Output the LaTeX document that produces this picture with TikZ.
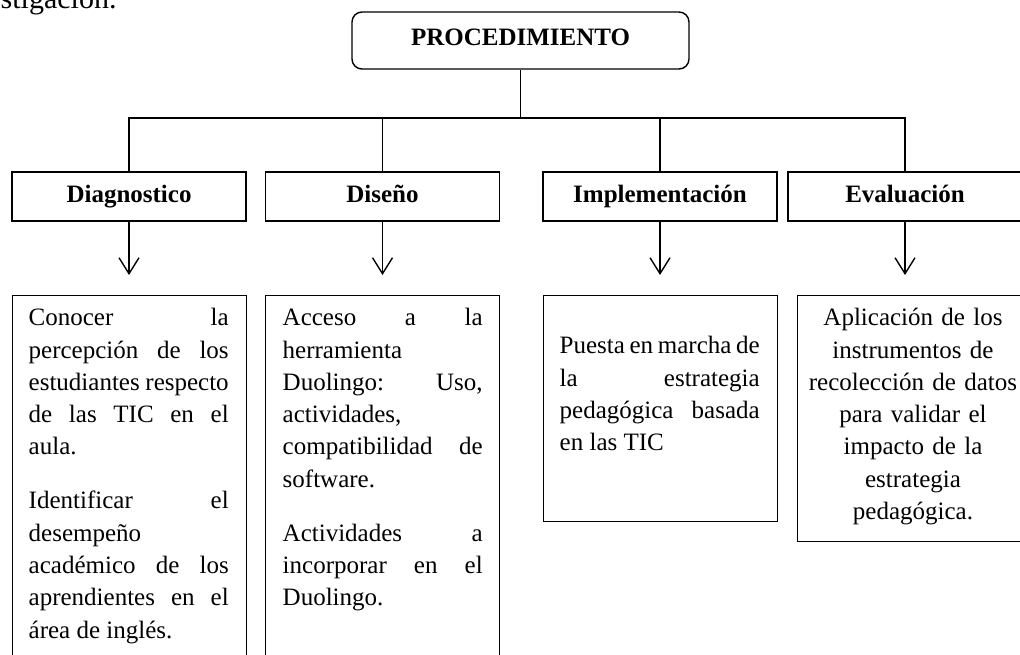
\documentclass[tikz,border=0pt]{standalone}
\usepackage{fontspec}
\setmainfont{Liberation Serif}
\usetikzlibrary{arrows.meta}

\newcommand{\cellfont}{\fontsize{12.5}{16.15}\selectfont\parindent=0pt\parskip=0pt%
  \tolerance=10000\hbadness=10000\hyphenpenalty=10000}

\begin{document}
\begin{tikzpicture}[x=0.5pt, y=-0.5pt, line width=0.7pt,
			titlebox/.style={draw, rounded corners=5pt, minimum width=168.5pt, minimum height=28.5pt,
				font=\fontsize{12.5}{15}\selectfont\bfseries, text depth=3pt},
			phase/.style={draw, minimum width=117pt, minimum height=24.5pt,
				font=\fontsize{12.5}{15}\selectfont\bfseries, text height=9pt, text depth=3pt},
			detail/.style={draw, anchor=north west, minimum width=117pt},
			celltext/.style={anchor=north west, inner sep=0pt, text width=100pt, align=justify, font=\cellfont},
			conn/.style={-{Straight Barb[length=8pt,width=10pt]}, shorten >=10pt}]
			\useasboundingbox (0,0) rectangle (1020,654);
			
			% tail of the line above
			\node[anchor=base west, inner sep=0pt, font=\fontsize{15}{18}\selectfont] (frag) at (0,8) {stigación.};
			
			% title and phases
			\node[titlebox] (proc) at (520.5,40.5) {PROCEDIMIENTO};
			\node[phase] (hdiag) at (129,196.5) {Diagnostico};
			\node[phase] (hdis) at (382.5,196.5) {Diseño};
			\node[phase] (himp) at (660,196.5) {Implementación};
			\node[phase] (heva) at (905,196.5) {Evaluación};
			
			% detail boxes
			\node[detail, minimum height=210pt] (bdiag) at (12,295) {};
			\node[detail, minimum height=210pt] (bdis) at (265,295) {};
			\node[detail, minimum height=113pt] (bimp) at (543,295) {};
			\node[detail, minimum width=140pt, minimum height=123pt] (beva) at (797,295) {};
			
			\node[celltext] (tdiag) at (28,302.4) {\strut Conocer la\linebreak percepción de los\linebreak
				estudiantes respecto\linebreak de las TIC en el\linebreak aula.\par\vspace{10.8pt}%
				Identificar el\linebreak desempeño\linebreak académico de los\linebreak
				aprendientes en el\linebreak área de inglés.};
			\node[celltext] (tdis) at (282,302.4) {\strut Acceso a la\linebreak herramienta\linebreak
				Duolingo: Uso,\linebreak actividades,\linebreak compatibilidad de\linebreak
				software.\par\vspace{10.8pt}%
				Actividades a\linebreak incorporar en el\linebreak Duolingo.};
			\node[celltext] (timp) at (559,330.4) {\strut Puesta en marcha de\linebreak la estrategia\linebreak
				pedagógica basada\linebreak en las TIC};
			\node[celltext, anchor=north, text width=110pt, align=center] (teva) at (913,302.4) {\strut Aplicación de los\\
				instrumentos de\\ recolección de datos\\ para validar el\\ impacto de la\\ estrategia\\ pedagógica.};
			
			% tree lines
			\coordinate (bus) at (0,118);
			\draw (proc.south) -- (proc.south |- bus);
			\foreach \h in {hdiag,hdis,himp,heva}
				\draw (proc.south |- bus) -| (\h.north);
			\foreach \h/\b in {hdiag/bdiag,hdis/bdis,himp/bimp,heva/beva}
				\draw[conn] (\h.south) -- (\h.south |- \b.north);
		\end{tikzpicture}
\end{document}
